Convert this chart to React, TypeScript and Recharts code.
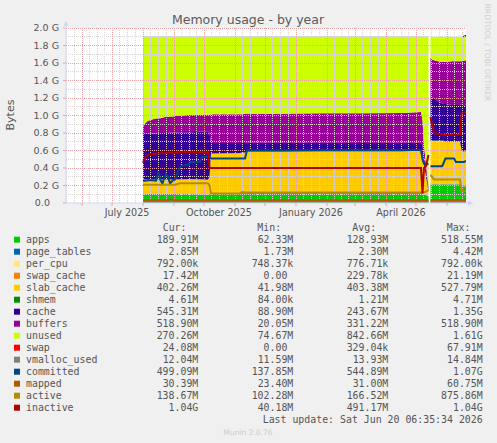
import React from 'react';
import {
  ComposedChart,
  Area,
  Line,
  XAxis,
  YAxis,
  CartesianGrid,
  ReferenceLine,
} from 'recharts';

// x = days since 1 July 2025, y = GiB
const days = [31, 33, 36, 40, 44, 46.5, 48.5, 50.5, 52, 54, 56, 58, 61, 63, 68, 71, 77, 79, 88, 90, 96, 97.5, 99, 128, 130, 133, 135, 170, 210, 250, 290, 309, 310.5, 312, 314, 316.5, 317.5, 318.5, 320, 322, 326, 330, 331, 333.5, 340, 342, 344, 348, 349.5, 352, 354];

const apps = [0.1, 0.1, 0.102, 0.102, 0.1, 0.1, 0.1, 0.102, 0.102, 0.1, 0.1, 0.102, 0.102, 0.1, 0.1, 0.1, 0.1, 0.1, 0.098, 0.098, 0.095, 0.1, 0.11, 0.11, 0.112, 0.112, 0.115, 0.115, 0.112, 0.115, 0.115, 0.112, 0.11, 0.1, 0.09, 0.07, null, 0.21, 0.21, 0.21, 0.21, 0.21, 0.21, 0.21, 0.21, 0.21, 0.21, 0.21, 0.185, 0.185, 0.185];
const pageTables = [0.003, 0.003, 0.003, 0.003, 0.003, 0.003, 0.003, 0.003, 0.003, 0.003, 0.003, 0.003, 0.003, 0.003, 0.003, 0.003, 0.003, 0.003, 0.003, 0.003, 0.003, 0.003, 0.003, 0.003, 0.003, 0.003, 0.003, 0.003, 0.003, 0.003, 0.003, 0.003, 0.003, 0.003, 0.003, 0.003, null, 0.003, 0.003, 0.003, 0.003, 0.003, 0.003, 0.003, 0.003, 0.003, 0.003, 0.003, 0.003, 0.003, 0.003];
const perCpu = [0.001, 0.001, 0.001, 0.001, 0.001, 0.001, 0.001, 0.001, 0.001, 0.001, 0.001, 0.001, 0.001, 0.001, 0.001, 0.001, 0.001, 0.001, 0.001, 0.001, 0.001, 0.001, 0.001, 0.001, 0.001, 0.001, 0.001, 0.001, 0.001, 0.001, 0.001, 0.001, 0.001, 0.001, 0.001, 0.001, null, 0.001, 0.001, 0.001, 0.001, 0.001, 0.001, 0.001, 0.001, 0.001, 0.001, 0.001, 0.001, 0.001, 0.001];
const swapCache = [0, 0, 0, 0, 0, 0, 0, 0, 0, 0, 0, 0, 0, 0, 0, 0, 0, 0, 0, 0, 0, 0, 0, 0, 0, 0, 0, 0, 0, 0, 0, 0, 0, 0, 0, 0, null, 0, 0, 0, 0, 0, 0, 0, 0, 0, 0, 0, 0.017, 0.017, 0.017];
const slabCache = [0.166, 0.166, 0.164, 0.164, 0.166, 0.166, 0.166, 0.164, 0.164, 0.164, 0.164, 0.162, 0.162, 0.166, 0.166, 0.166, 0.168, 0.168, 0.168, 0.168, 0.166, 0.196, 0.451, 0.456, 0.459, 0.459, 0.471, 0.471, 0.474, 0.471, 0.471, 0.484, 0.436, 0.336, 0.206, 0.066, null, 0.496, 0.496, 0.496, 0.496, 0.496, 0.496, 0.486, 0.486, 0.486, 0.486, 0.486, 0.394, 0.38, 0.39];
const shmem = [0.001, 0.001, 0.001, 0.001, 0.001, 0.001, 0.001, 0.001, 0.001, 0.001, 0.001, 0.001, 0.001, 0.001, 0.001, 0.001, 0.001, 0.001, 0.001, 0.001, 0.001, 0.001, 0.001, 0.001, 0.001, 0.001, 0.001, 0.001, 0.001, 0.001, 0.001, 0.001, 0.001, 0.001, 0.001, 0.001, null, 0.0045, 0.0045, 0.0045, 0.0045, 0.0045, 0.0045, 0.0045, 0.0045, 0.0045, 0.0045, 0.0045, 0.0045, 0.0045, 0.0045];
const cache = [0.519, 0.519, 0.519, 0.524, 0.524, 0.529, 0.529, 0.529, 0.529, 0.531, 0.531, 0.536, 0.536, 0.534, 0.539, 0.539, 0.537, 0.537, 0.544, 0.544, 0.554, 0.499, 0.119, 0.114, 0.109, 0.109, 0.099, 0.099, 0.099, 0.094, 0.099, 0.089, 0.109, 0.089, 0.069, 0.019, null, 0.506, 0.496, 0.486, 0.446, 0.426, 0.416, 0.426, 0.416, 0.416, 0.416, 0.416, 0.526, 0.525, 0.53];
const buffers = [0.09, 0.12, 0.15, 0.16, 0.17, 0.17, 0.17, 0.175, 0.18, 0.185, 0.185, 0.185, 0.185, 0.19, 0.19, 0.19, 0.195, 0.195, 0.195, 0.195, 0.19, 0.21, 0.33, 0.33, 0.33, 0.335, 0.33, 0.33, 0.335, 0.34, 0.34, 0.35, 0.29, 0.13, 0.07, 0.03, null, 0.44, 0.43, 0.43, 0.46, 0.47, 0.48, 0.48, 0.5, 0.5, 0.5, 0.5, 0.49, 0.51, 0.5];
const unused = [1.03, 1.0, 0.97, 0.955, 0.945, 0.94, 0.94, 0.935, 0.93, 0.925, 0.925, 0.92, 0.92, 0.915, 0.91, 0.91, 0.905, 0.905, 0.9, 0.9, 0.9, 0.9, 0.895, 0.895, 0.895, 0.89, 0.89, 0.89, 0.885, 0.885, 0.88, 0.87, 0.96, 1.25, 1.47, 1.72, null, 0.24, 0.26, 0.27, 0.28, 0.29, 0.29, 0.29, 0.28, 0.28, 0.28, 0.28, 0.28, 0.27, 0.27];
const swap = [0, 0, 0, 0, 0, 0, 0, 0, 0, 0, 0, 0, 0, 0, 0, 0, 0, 0, 0, 0, 0, 0, 0, 0, 0, 0, 0, 0, 0, 0, 0, 0, 0, 0, 0, 0, null, 0, 0, 0, 0, 0, 0, 0, 0, 0, 0, 0, 0, 0.02, 0.024];

const vmallocUsed = [0.013, 0.013, 0.013, 0.013, 0.013, 0.013, 0.013, 0.013, 0.013, 0.013, 0.013, 0.013, 0.013, 0.013, 0.013, 0.013, 0.013, 0.013, 0.013, 0.013, 0.013, 0.013, 0.013, 0.013, 0.013, 0.013, 0.013, 0.013, 0.013, 0.013, 0.013, 0.013, 0.013, 0.013, 0.013, 0.013, null, 0.012, 0.012, 0.012, 0.012, 0.012, 0.012, 0.012, 0.012, 0.012, 0.012, 0.012, 0.012, 0.012, 0.012];
const committed = [0.255, 0.255, 0.26, 0.26, 0.255, 0.36, 0.26, 0.225, 0.28, 0.33, 0.3, 0.225, 0.26, 0.27, 0.415, 0.43, 0.44, 0.47, 0.47, 0.53, 0.53, 0.52, 0.51, 0.51, 0.51, 0.51, 0.6, 0.6, 0.605, 0.605, 0.605, 0.605, 0.5, 0.45, 0.45, 0.44, null, 0.42, 0.42, 0.42, 0.42, 0.42, 0.44, 0.51, 0.51, 0.51, 0.47, 0.47, 0.47, 0.47, 0.48];
const mapped = [0.028, 0.028, 0.028, 0.028, 0.028, 0.028, 0.028, 0.028, 0.028, 0.028, 0.028, 0.04, 0.04, 0.03, 0.03, 0.03, 0.03, 0.03, 0.03, 0.03, 0.03, 0.03, 0.03, 0.03, 0.03, 0.03, 0.03, 0.03, 0.03, 0.03, 0.03, 0.03, 0.03, 0.03, 0.03, 0.03, null, 0.032, 0.032, 0.032, 0.032, 0.032, 0.032, 0.032, 0.032, 0.032, 0.032, 0.032, 0.032, 0.032, 0.032];
const active = [0.21, 0.21, 0.21, 0.21, 0.21, 0.21, 0.21, 0.21, 0.21, 0.21, 0.21, 0.21, 0.21, 0.21, 0.225, 0.225, 0.225, 0.225, 0.225, 0.225, 0.225, 0.2, 0.11, 0.11, 0.125, 0.12, 0.12, 0.12, 0.12, 0.12, 0.12, 0.12, 0.12, 0.12, 0.13, 0.15, null, 0.32, 0.3, 0.27, 0.27, 0.27, 0.27, 0.27, 0.27, 0.27, 0.27, 0.27, 0.14, 0.135, 0.135];
const inactive = [0.46, 0.52, 0.55, 0.56, 0.565, 0.565, 0.57, 0.57, 0.57, 0.57, 0.575, 0.575, 0.575, 0.575, 0.58, 0.58, 0.58, 0.58, 0.58, 0.58, 0.58, 0.4, 0.4, 0.4, 0.4, 0.4, 0.4, 0.4, 0.4, 0.4, 0.4, 0.4, 0.11, 0.4, 0.42, 0.55, null, 0.98, 0.9, 0.8, 0.79, 0.79, 0.79, 0.78, 0.78, 0.78, 0.78, 0.78, 1.02, 1.03, 1.04];

const names = ['apps', 'page_tables', 'per_cpu', 'swap_cache', 'slab_cache', 'shmem', 'cache', 'buffers', 'unused', 'swap', 'vmalloc_used', 'committed', 'mapped', 'active', 'inactive'];
const colors = ['#00cc00', '#0066b3', '#ffe680', '#ff8000', '#ffcc00', '#008f00', '#330099', '#990099', '#ccff00', '#ff0000', '#808080', '#00487d', '#b35a00', '#b38f00', '#b30000'];
const curVals = ['189.91M', '2.85M', '792.00k', '17.42M', '402.26M', '4.61M', '545.31M', '518.90M', '270.26M', '24.08M', '12.04M', '499.09M', '30.39M', '138.67M', '1.04G'];
const minVals = ['62.33M', '1.73M', '748.37k', '0.00 ', '41.98M', '84.00k', '88.90M', '20.05M', '74.67M', '0.00 ', '11.59M', '137.85M', '23.40M', '102.28M', '40.18M'];
const avgVals = ['128.93M', '2.30M', '776.71k', '229.78k', '403.38M', '1.21M', '243.67M', '331.22M', '842.66M', '329.04k', '13.93M', '544.89M', '31.00M', '166.52M', '491.17M'];
const maxVals = ['518.55M', '4.42M', '792.00k', '21.19M', '527.79M', '4.71M', '1.35G', '518.90M', '1.61G', '67.91M', '14.84M', '1.07G', '60.75M', '875.86M', '1.04G'];

const monthStarts = [-61, -30, 0, 31, 62, 92, 123, 153, 184, 215, 243, 274, 304, 335, 365];
const labelDays = [15, 107, 199, 289];
const labelTexts = ['July 2025', 'October 2025', 'January 2026', 'April 2026'];
const yTicks = [0, 0.2, 0.4, 0.6, 0.8, 1.0, 1.2, 1.4, 1.6, 1.8, 2.0];
const yMinor = [0.1, 0.3, 0.5, 0.7, 0.9, 1.1, 1.3, 1.5, 1.7, 1.9];

const X_MIN = -46;
const X_MAX = 354;

const areaKeys = names.slice(0, 10);
const lineKeys = names.slice(10);

const MAJOR = '#eba3a3';
const MINOR = '#dcd3d3';
const AXIS = '#cfd6f8';
const FONT = '#555555';

export default function App() {
  const rows = days.map((day, i) => ({
    day,
    apps: apps[i],
    page_tables: pageTables[i],
    per_cpu: perCpu[i],
    swap_cache: swapCache[i],
    slab_cache: slabCache[i],
    shmem: shmem[i],
    cache: cache[i],
    buffers: buffers[i],
    unused: unused[i],
    swap: swap[i],
    vmalloc_used: vmallocUsed[i],
    committed: committed[i],
    mapped: mapped[i],
    active: active[i],
    inactive: inactive[i],
  }));

  const majorX = monthStarts.filter((d) => d > X_MIN && d < X_MAX);
  const minorX: number[] = [];
  for (let i = 0; i < monthStarts.length - 1; i++) {
    const a = monthStarts[i];
    const b = monthStarts[i + 1];
    for (let k = 1; k < 4; k++) {
      const d = a + ((b - a) * k) / 4;
      if (d > X_MIN && d < X_MAX) minorX.push(d);
    }
  }

  const mono = { fontFamily: 'DejaVu Sans Mono', fontSize: 9.9, fill: FONT };
  const rowY = (i: number) => 243 + i * 12;
  const gridProps = { strokeDasharray: '1 1', shapeRendering: 'crispEdges' };

  return (
    <div style={{ position: 'absolute', left: 0, top: 0, width: 497, height: 443, background: '#f0f0f0' }}>
      <ComposedChart
        width={497}
        height={443}
        data={rows}
        margin={{ top: 28, right: 31, bottom: 220, left: 10 }}>
        <CartesianGrid horizontal={false} vertical={false} fill="#ffffff" stroke="none" />
        <XAxis
          dataKey="day"
          type="number"
          domain={[X_MIN, X_MAX]}
          allowDataOverflow
          ticks={majorX}
          tickFormatter={() => ''}
          tickSize={3}
          height={5}
          axisLine={{ stroke: AXIS }}
          tickLine={{ stroke: MAJOR }}
        />
        <XAxis
          xAxisId="lbl"
          dataKey="day"
          type="number"
          domain={[X_MIN, X_MAX]}
          allowDataOverflow
          ticks={labelDays}
          tickFormatter={(v: number) => labelTexts[labelDays.indexOf(v)] ?? ''}
          axisLine={false}
          tickLine={false}
          tickSize={0}
          tickMargin={1}
          height={15}
          interval={0}
          tick={{ fontFamily: 'DejaVu Sans', fontSize: 9.6, fill: FONT }}
        />
        <YAxis
          type="number"
          domain={[0, 2]}
          ticks={yTicks}
          interval={0}
          width={56}
          tickSize={3}
          tickMargin={4}
          tickFormatter={(v: number) => (v === 0 ? '0.0\u00a0\u00a0\u00a0' : `${v.toFixed(1)} G`)}
          axisLine={{ stroke: AXIS }}
          tickLine={{ stroke: MAJOR }}
          tick={{ fontFamily: 'DejaVu Sans', fontSize: 9.5, fill: FONT }}
        />
        {areaKeys.map((k) => (
          <Area
            key={k}
            dataKey={k}
            stackId="mem"
            type="linear"
            stroke="none"
            fill={colors[names.indexOf(k)]}
            fillOpacity={1}
            isAnimationActive={false}
            dot={false}
            activeDot={false}
          />
        ))}
        {minorX.map((d) => (
          <ReferenceLine key={'nx' + d} x={d} stroke={MINOR} {...gridProps} />
        ))}
        {yMinor.map((v) => (
          <ReferenceLine key={'ny' + v} y={v} stroke={MINOR} {...gridProps} />
        ))}
        {majorX.map((d) => (
          <ReferenceLine key={'mx' + d} x={d} stroke={MAJOR} {...gridProps} />
        ))}
        {yTicks.slice(1).map((v) => (
          <ReferenceLine key={'my' + v} y={v} stroke={MAJOR} {...gridProps} />
        ))}
        {lineKeys.map((k) => (
          <Line
            key={k}
            dataKey={k}
            type="linear"
            stroke={colors[names.indexOf(k)]}
            strokeWidth={2}
            dot={false}
            activeDot={false}
            isAnimationActive={false}
          />
        ))}
      </ComposedChart>
      <svg
        width={497}
        height={443}
        style={{ position: 'absolute', left: 0, top: 0, pointerEvents: 'none' }}>
        <line x1={66} y1={28} x2={66} y2={22} stroke={AXIS} />
        <polygon points="63.5,26 68.5,26 66,20.5" fill={AXIS} />
        <line x1={466} y1={203} x2={470} y2={203} stroke={AXIS} />
        <polygon points="468,200.5 468,205.5 473.5,203" fill={AXIS} />
        <text x={248} y={24} textAnchor="middle" fontFamily="DejaVu Sans" fontSize={12.5} fill="#5a5a5a">
          Memory usage - by year
        </text>
        <text
          x={14}
          y={115}
          transform="rotate(-90 14 115)"
          textAnchor="middle"
          fontFamily="DejaVu Sans"
          fontSize={11}
          fill={FONT}>
          Bytes
        </text>
        <text
          x={485}
          y={52.5}
          transform="rotate(90 485 52.5)"
          textAnchor="middle"
          fontFamily="DejaVu Sans"
          fontSize={7.6}
          fill="#cfcfcf">
          RRDTOOL / TOBI OETIKER
        </text>
        <text x={162.7} y={rowY(-1)} {...mono}>Cur:</text>
        <text x={257.3} y={rowY(-1)} {...mono}>Min:</text>
        <text x={352.3} y={rowY(-1)} {...mono}>Avg:</text>
        <text x={446.7} y={rowY(-1)} {...mono}>Max:</text>
        {names.map((n, i) => (
          <g key={n}>
            <rect x={14} y={rowY(i) - 6.3} width={6} height={6} fill={colors[i]} />
            <text x={26} y={rowY(i)} {...mono}>{n}</text>
            <text x={198.3} y={rowY(i)} textAnchor="end" style={{ whiteSpace: 'pre' }} {...mono}>{curVals[i]}</text>
            <text x={293.3} y={rowY(i)} textAnchor="end" style={{ whiteSpace: 'pre' }} {...mono}>{minVals[i]}</text>
            <text x={388.3} y={rowY(i)} textAnchor="end" style={{ whiteSpace: 'pre' }} {...mono}>{avgVals[i]}</text>
            <text x={482.7} y={rowY(i)} textAnchor="end" style={{ whiteSpace: 'pre' }} {...mono}>{maxVals[i]}</text>
          </g>
        ))}
        <text x={482.7} y={rowY(15)} textAnchor="end" {...mono}>
          Last update: Sat Jun 20 06:35:34 2026
        </text>
        <text x={248} y={434.5} textAnchor="middle" fontFamily="DejaVu Sans" fontSize={7.5} fill="#cccccc">
          Munin 2.0.76
        </text>
      </svg>
    </div>
  );
}
